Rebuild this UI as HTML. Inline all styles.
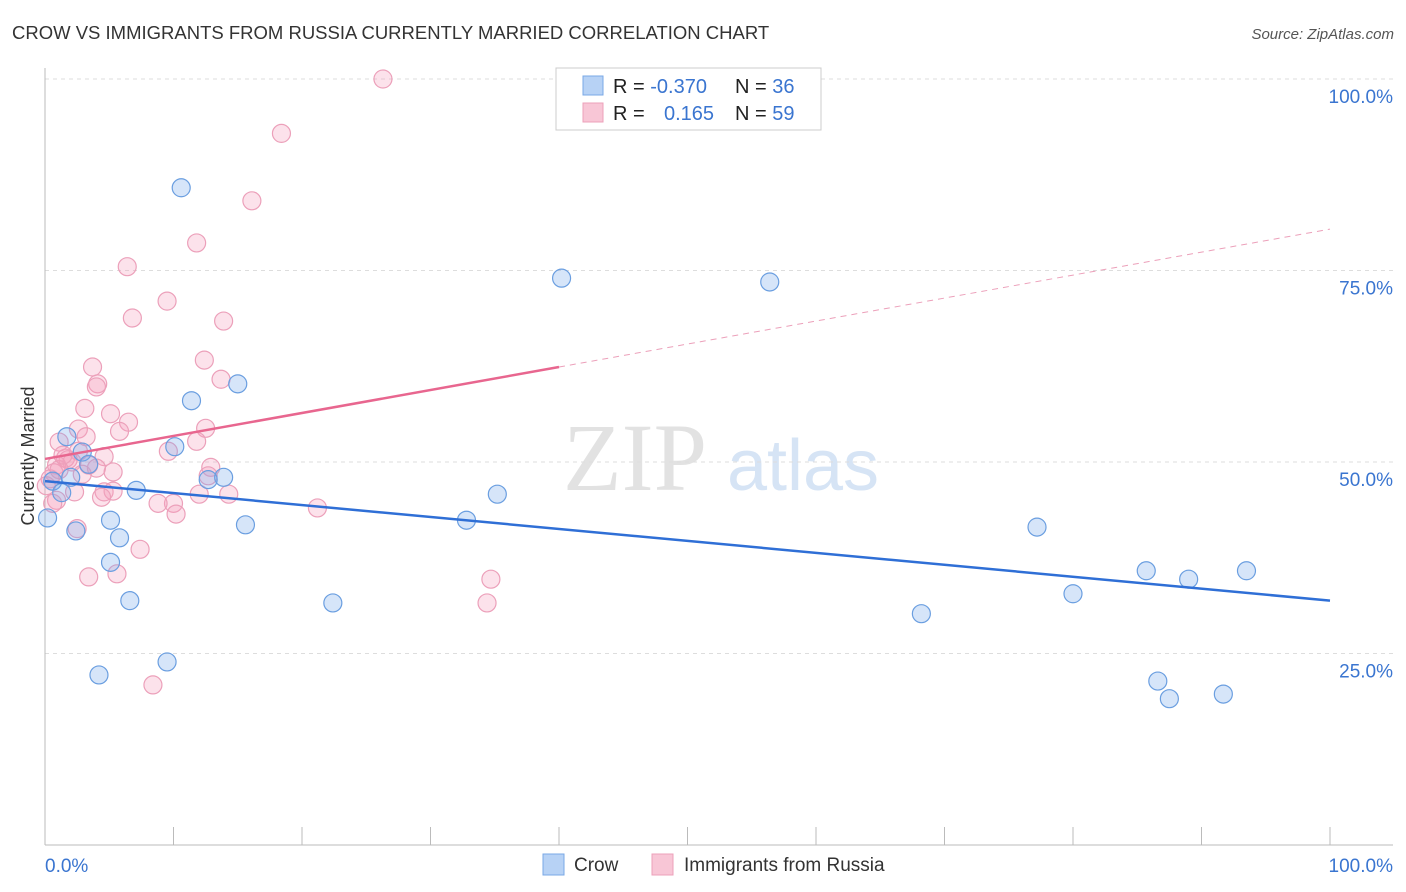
<!DOCTYPE html>
<html><head><meta charset="utf-8"><style>
html,body{margin:0;padding:0;background:#fff;width:1406px;height:892px;overflow:hidden;font-family:"Liberation Sans",sans-serif;}
</style></head><body>
<svg id="chart" width="1406" height="892" xmlns="http://www.w3.org/2000/svg">
<text x="12" y="39" font-size="18.5" fill="#333">CROW VS IMMIGRANTS FROM RUSSIA CURRENTLY MARRIED CORRELATION CHART</text>
<text x="1394" y="39" font-size="15" fill="#555" text-anchor="end" font-style="italic">Source: ZipAtlas.com</text>
<text x="34" y="456" font-size="18" fill="#333" text-anchor="middle" transform="rotate(-90 34 456)">Currently Married</text>
<g>
<text x="635" y="490" font-size="96" fill="#e2e2e2" text-anchor="middle" font-family="Liberation Serif,serif">ZIP</text>
<text x="803" y="490" font-size="72" fill="#d6e4f5" text-anchor="middle">atlas</text>
</g>
<g id="grid"></g><g id="axes"></g><g id="marks"></g>
<g>
<rect x="556" y="68" width="265" height="62" fill="#fff" stroke="#ccc"/>
<rect x="583" y="76" width="20" height="19" fill="#b7d2f5" stroke="#7aa8e6"/>
<rect x="583" y="103" width="20" height="19" fill="#f8c6d6" stroke="#eca0ba"/>
<text x="613" y="93" font-size="20" fill="#222">R = <tspan fill="#3a75d0">-0.370</tspan><tspan x="735">N = </tspan><tspan fill="#3a75d0">36</tspan></text>
<text x="613" y="120" font-size="20" fill="#222">R = <tspan x="664" fill="#3a75d0">0.165</tspan><tspan x="735">N = </tspan><tspan fill="#3a75d0">59</tspan></text>
</g>
<g>
<rect x="543" y="854" width="21" height="21" fill="#b7d2f5" stroke="#7aa8e6"/>
<text x="574" y="871" font-size="19" fill="#333">Crow</text>
<rect x="652" y="854" width="21" height="21" fill="#f8c6d6" stroke="#eca0ba"/>
<text x="684" y="871" font-size="19" fill="#333">Immigrants from Russia</text>
</g>
</svg>
<script>
const crowX=[10.6,40.2,56.4,15.0,11.4,10.1,1.7,2.9,3.4,2.0,0.6,1.3,7.1,13.9,12.7,35.2,5.1,0.2,15.6,32.8,2.4,5.8,5.1,6.6,22.4,9.5,4.2,77.2,68.2,80.0,85.7,89.0,93.5,86.6,87.5,91.7];
const crowY=[85.8,74.0,73.5,60.2,58.0,52.0,53.3,51.3,49.7,48.0,47.5,46.0,46.3,48.0,47.7,45.8,42.4,42.7,41.8,42.4,41.0,40.1,36.9,31.9,31.6,23.9,22.2,41.5,30.2,32.8,35.8,34.7,35.8,21.4,19.1,19.7];
const rusX=[26.3,18.4,16.1,11.8,6.4,9.5,6.8,13.9,12.4,3.7,4.1,13.7,4.0,3.1,5.1,6.5,5.8,12.5,2.6,3.2,11.8,1.1,9.6,2.6,4.6,1.6,1.8,2.1,0.9,3.4,4.0,12.9,5.3,0.7,2.9,12.7,0.4,0.1,2.3,4.6,5.3,14.3,12.0,4.4,0.9,0.6,10.0,8.8,10.2,21.2,2.5,7.4,3.4,5.6,34.7,34.4,8.4,1.1,1.4];
const rusY=[100,92.9,84.1,78.6,75.5,71.0,68.8,68.4,63.3,62.4,60.2,60.8,59.8,57.0,56.3,55.2,54.0,54.4,54.3,53.3,52.7,52.6,51.4,51.4,50.7,50.5,50.3,50.0,49.6,49.6,49.2,49.3,48.7,48.6,48.4,48.2,47.8,46.9,46.1,46.1,46.2,45.8,45.8,45.4,45.0,44.6,44.6,44.6,43.2,44.0,41.3,38.6,35.0,35.4,34.7,31.6,20.9,49.0,50.9];
const crowTrend=[47.5,31.9];
const rusTrend=[50.4,80.4];
const rusSolidEnd=40;
const yTicks=[25,50,75,100];
const yTickLabels=["25.0%","50.0%","75.0%","100.0%"];
const xTicks=[0,10,20,30,40,50,60,70,80,90,100];

const NS="http://www.w3.org/2000/svg";
const sx=v=>45+v*12.85, sy=v=>845-v*7.66;
function mk(tag,attrs,parent){const e=document.createElementNS(NS,tag);for(const k in attrs)e.setAttribute(k,attrs[k]);parent.appendChild(e);return e;}
const grid=document.getElementById('grid'),axes=document.getElementById('axes'),marks=document.getElementById('marks');
yTicks.forEach((t,i)=>{
 const l=mk('line',{x1:45,x2:1393,y1:sy(t),y2:sy(t),stroke:'#ddd','stroke-dasharray':'4,4'},grid);
 
 
 const tx=mk('text',{x:1393,y:sy(t)+24,'font-size':19,fill:'#3a75d0','text-anchor':'end'},axes);
 tx.textContent=yTickLabels[i];
 
 
});
mk('line',{x1:45,x2:45,y1:68,y2:845,stroke:'#bbb'},axes);
mk('line',{x1:45,x2:1393,y1:845,y2:845,stroke:'#bbb'},axes);
xTicks.forEach(t=>{
 const l=mk('line',{x1:sx(t),x2:sx(t),y1:827,y2:845,stroke:'#bbb'},axes);
 
 
});
const x0=mk('text',{x:45,y:872,'font-size':19,fill:'#3a75d0'},axes);x0.textContent="0.0%";


const x1=mk('text',{x:1393,y:872,'font-size':19,fill:'#3a75d0','text-anchor':'end'},axes);x1.textContent="100.0%";



rusX.forEach((x,i)=>{
 const c=mk('circle',{cx:sx(x),cy:sy(rusY[i]),r:9,fill:'rgba(244,160,190,0.3)',stroke:'#eca0ba','stroke-width':1.2},marks);
 
 
});
crowX.forEach((x,i)=>{
 const c=mk('circle',{cx:sx(x),cy:sy(crowY[i]),r:9,fill:'rgba(120,170,235,0.3)',stroke:'#6a9ee0','stroke-width':1.2},marks);
 
 
});
const rAt=x=>rusTrend[0]+(rusTrend[1]-rusTrend[0])*x/100;
const t1=mk('line',{x1:sx(0),y1:sy(crowTrend[0]),x2:sx(100),y2:sy(crowTrend[1]),stroke:'#2f6fd6','stroke-width':2.5},marks);


const t2=mk('line',{x1:sx(0),y1:sy(rAt(0)),x2:sx(rusSolidEnd),y2:sy(rAt(rusSolidEnd)),stroke:'#e8668f','stroke-width':2.5},marks);


const t3=mk('line',{x1:sx(rusSolidEnd),y1:sy(rAt(rusSolidEnd)),x2:sx(100),y2:sy(rAt(100)),stroke:'#eca0ba','stroke-width':1,'stroke-dasharray':'6,5'},marks);


</script>
</body></html>
